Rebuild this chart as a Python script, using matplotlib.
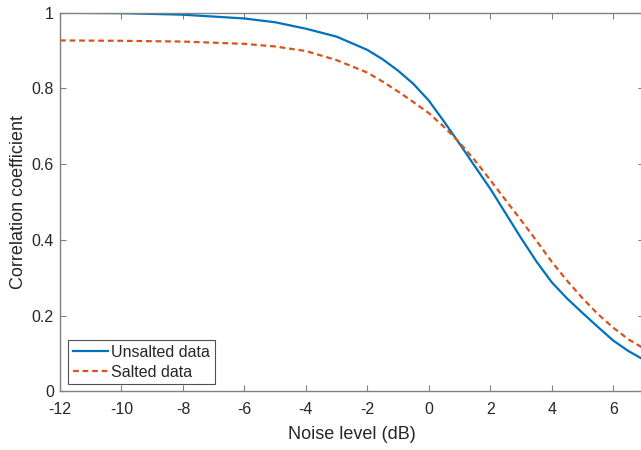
import matplotlib
matplotlib.use("Agg")
import matplotlib.pyplot as plt

plt.rcParams['font.family'] = ['Liberation Sans', 'DejaVu Sans']

# noise level (dB) and correlation coefficients
noise_unsalted = [-12, -10, -8, -6, -5, -4, -3, -2, -1.5, -1, -0.5, 0, 0.5, 1, 1.5, 2,
                  2.5, 3, 3.5, 4, 4.5, 5, 5.5, 6, 6.5, 7]
corr_unsalted = [1.0, 0.999, 0.995, 0.985, 0.975, 0.958, 0.937, 0.902, 0.877, 0.847,
                 0.812, 0.768, 0.712, 0.654, 0.594, 0.535, 0.470, 0.405, 0.343, 0.288,
                 0.245, 0.207, 0.170, 0.134, 0.106, 0.083]

noise_salted = [-12, -10, -8, -6, -5, -4, -3, -2, -1.5, -1, -0.5, 0, 0.5, 1, 1.5, 2,
                2.5, 3, 3.5, 4, 4.5, 5, 5.5, 6, 6.5, 7]
corr_salted = [0.927, 0.926, 0.924, 0.918, 0.911, 0.899, 0.875, 0.842, 0.818, 0.792,
               0.764, 0.735, 0.698, 0.657, 0.610, 0.558, 0.505, 0.452, 0.398, 0.342,
               0.292, 0.246, 0.204, 0.168, 0.137, 0.113]

xticks = [-12, -10, -8, -6, -4, -2, 0, 2, 4, 6]
yticks = [0, 0.2, 0.4, 0.6, 0.8, 1]
ytick_labels = ['0', '0.2', '0.4', '0.6', '0.8', '1']

fig = plt.figure(figsize=(6.41, 4.5), dpi=100)
ax = fig.add_axes([60 / 641, 1 - 391.3 / 450, 584 / 641, 378.5 / 450])

ax.plot(noise_unsalted, corr_unsalted, color='#0072BD', lw=1.6, label='Unsalted data')
ax.plot(noise_salted, corr_salted, color='#D95319', lw=1.6, ls=(0, (2.6, 1.7)),
        label='Salted data')

ax.set_xlim(-12, 7)
ax.set_ylim(0, 1)
ax.set_xticks(xticks)
ax.set_xticklabels([str(t) for t in xticks])
ax.set_yticks(yticks)
ax.set_yticklabels(ytick_labels)

axis_gray = '#808080'
for s in ax.spines.values():
    s.set_color(axis_gray)
    s.set_linewidth(1.0)
ax.tick_params(direction='in', top=True, right=True, length=4, width=0.8,
               color=axis_gray, labelcolor='#262626', labelsize=11.5)
ax.tick_params(axis='x', pad=7.5)
ax.tick_params(axis='y', pad=4.5)

ax.set_xlabel('Noise level (dB)', fontsize=13, color='#262626', labelpad=7)
ax.set_ylabel('Correlation coefficient', fontsize=13, color='#262626', labelpad=3)

leg = ax.legend(loc='lower left', bbox_to_anchor=(0.014, 0.018), fontsize=11.5,
                frameon=True, fancybox=False, edgecolor='#262626', handlelength=2.2,
                handletextpad=0.2, borderpad=0.3, labelspacing=0.3, borderaxespad=0)
leg.get_frame().set_linewidth(0.8)
for t in leg.get_texts():
    t.set_color('#262626')

fig.savefig('out.png', dpi=100)
